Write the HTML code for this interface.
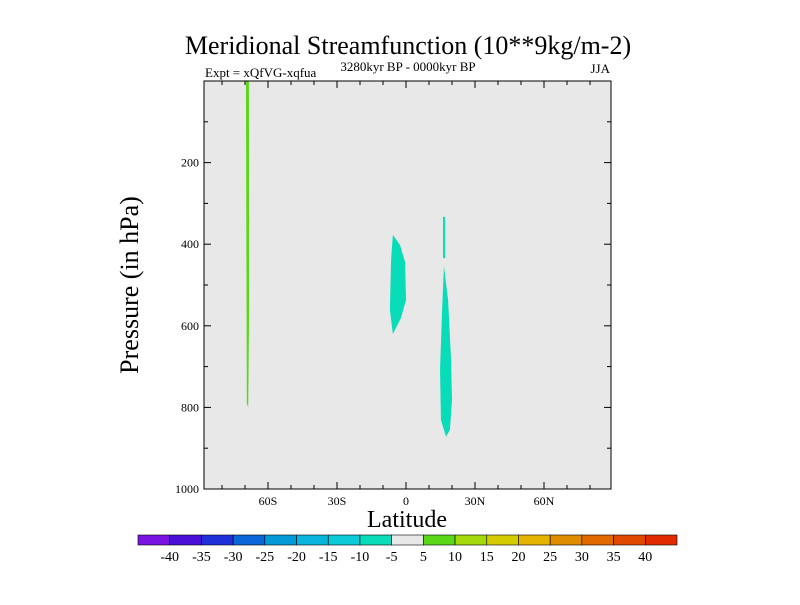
<!DOCTYPE html>
<html><head><meta charset="utf-8"><style>
body{margin:0;background:#fff;width:800px;height:600px;overflow:hidden}
svg text{font-family:"Liberation Serif",serif;fill:#000}
</style></head><body>
<svg id="c" width="800" height="600"></svg>
<script>
const latTicks=[-60,-30,0,30,60];
const latLabels=["60S","30S","0","30N","60N"];
const pTicks=[200,400,600,800,1000];
const cbLabels=["-40","-35","-30","-25","-20","-15","-10","-5","5","10","15","20","25","30","35","40"];
const cbColors=["#7a14e0","#4a10d8","#2030d8","#0a66d8","#049ad8","#0ab4dc","#0ccad8","#08dcb8","#e8e8e8","#5ad818","#a4d808","#d4cc00","#e4b400","#e08c00","#e06a00","#e04a00","#e02a00"];
const shapeColors=["#5ad818","#08dcb8","#08dcb8","#08dcb8"];
const shapeLats=[[-69.6,-68.3,-68.2,-68.6,-69.2],[-5.7,-2.6,-0.4,0,-2.2,-5.7,-7,-6.5],[16.1,17,17,16.1],[16.5,18.3,19.6,20,19.1,17.4,15.2,14.8,15.7]];
const shapePres=[[0,0,560,800,790],[377,402,444,537,581,620,561,439],[333,333,434,434],[453,537,684,782,855,872,831,708,561]];
const svg=document.getElementById('c');const NS="http://www.w3.org/2000/svg";
const L=204,R=611,T=81,B=489;
const xs=lat=>406+(lat)*2.3;
const ys=p=>T+p/1000*(B-T);
function mk(t,a,parent){const e=document.createElementNS(NS,t);for(const k in a)e.setAttribute(k,a[k]);(parent||svg).appendChild(e);return e;}
let bg=mk('rect',{x:L,y:T,width:R-L,height:B-T,fill:'#e8e8e8'});


shapeLats.forEach((la,i)=>{const pts=la.map((v,j)=>xs(v)+','+ys(shapePres[i][j])).join(' ');
 const p=mk('polygon',{points:pts,fill:shapeColors[i]});
 
 });
mk('rect',{x:L,y:T,width:R-L,height:B-T,fill:'none',stroke:'#000','stroke-width':1});
for(let lat=-80;lat<=80;lat+=10){const x=xs(lat);const major=lat%30===0;const len=major?7:4;
 mk('line',{x1:x,x2:x,y1:B,y2:B-len,stroke:'#000'});mk('line',{x1:x,x2:x,y1:T,y2:T+len,stroke:'#000'});}
for(let p=100;p<1000;p+=100){const y=ys(p);const len=p%200===0?7:4;
 mk('line',{x1:L,x2:L+len,y1:y,y2:y,stroke:'#000'});mk('line',{x1:R,x2:R-len,y1:y,y2:y,stroke:'#000'});}
latTicks.forEach((v,i)=>{const t=mk('text',{x:xs(v),y:B+16,'font-size':12,'text-anchor':'middle'});t.textContent=latLabels[i];
 
 });
pTicks.forEach(v=>{const t=mk('text',{x:L-5,y:ys(v)+4,'font-size':12,'text-anchor':'end'});t.textContent=v;
 
 });
const cbL=138,cbR=677,cbT=535,cbB=545,w=(cbR-cbL)/cbColors.length;
cbColors.forEach((c,i)=>{const r=mk('rect',{x:cbL+i*w,y:cbT,width:w,height:cbB-cbT,fill:c,stroke:'#000','stroke-width':0.6});
 
 });
cbLabels.forEach((s,i)=>{const t=mk('text',{x:cbL+(i+1)*w,y:cbB+16,'font-size':14,'text-anchor':'middle'});t.textContent=s;
 
 });
</script>
<svg width="800" height="600" style="position:absolute;left:0;top:0">
<text x="408" y="54" font-size="26" text-anchor="middle">Meridional Streamfunction (10**9kg/m-2)</text>
<text x="205" y="77" font-size="13">Expt = xQfVG-xqfua</text>
<text x="408" y="71" font-size="13" text-anchor="middle">3280kyr BP - 0000kyr BP</text>
<text x="610" y="73" font-size="13" text-anchor="end">JJA</text>
<text x="407" y="527" font-size="24" text-anchor="middle">Latitude</text>
<text transform="translate(138,285) rotate(-90)" font-size="26" text-anchor="middle">Pressure (in hPa)</text>
</svg>
</body></html>
